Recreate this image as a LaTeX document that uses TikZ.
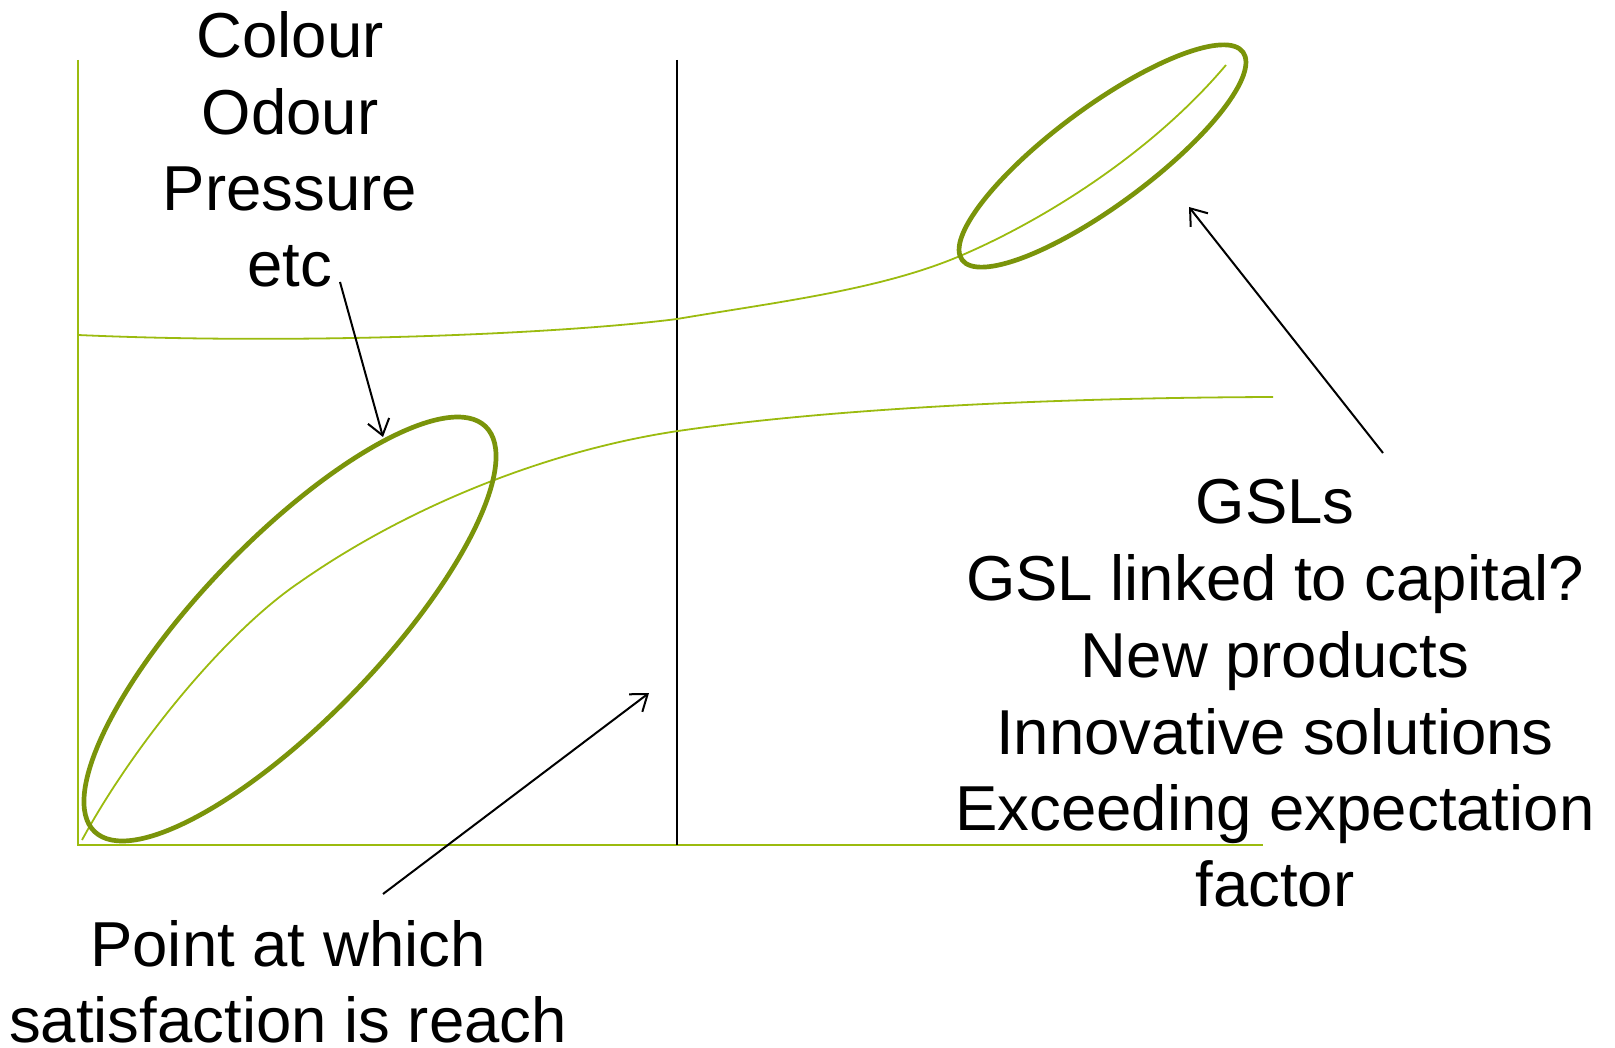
\documentclass[tikz,border=0pt]{standalone}
\usepackage{fontspec}
\setmainfont{Liberation Sans}
\usetikzlibrary{arrows.meta}
\definecolor{lightgr}{RGB}{155,187,15}
\definecolor{ringgr}{RGB}{122,148,10}
\begin{document}
\begin{tikzpicture}[x=1pt,y=-1pt,
  lbl/.style={inner sep=0pt, anchor=base, font=\fontsize{63.5}{76.5}\selectfont},
  axisline/.style={draw=lightgr, line width=2pt},
  curveline/.style={draw=lightgr, line width=1.8pt},
  ring/.style={draw=ringgr, line width=4.7pt},
  pointer/.style={draw=black, line width=2pt, -{Straight Barb[length=15pt,width=22pt]}}]
\useasboundingbox (0,0) rectangle (1615,1048);
% axes
\coordinate (ytop) at (78,60);
\coordinate (orig) at (78,845);
\coordinate (xend) at (1263,845);
\draw[axisline] (ytop) -- (orig) -- (xend);
% divider
\coordinate (dtop) at (677,60);
\coordinate (dbot) at (677,845);
\draw[line width=1.6pt] (dtop) -- (dbot);
% curves
\draw[curveline] (78,335) .. controls (300,345) and (560,334) .. (677,319)
  .. controls (777,302) and (880,290) .. (960,256)
  .. controls (1040,222) and (1150,155) .. (1226,65);
\draw[curveline] (82,840) .. controls (137,739) and (230,629) .. (300,582)
  .. controls (410,505) and (550,450) .. (678,431)
  .. controls (800,413) and (1000,398) .. (1273,397);
% ellipses
\draw[ring, rotate around={46:(290,629)}] (290,629) ellipse [x radius=281.5, y radius=90];
\draw[ring, rotate around={36.5:(1102.5,156)}] (1102.5,156) ellipse [x radius=174.7, y radius=49];
% texts
\node[lbl] (t1) at (290,58) {Colour};
\node[lbl] (t2) at (290,135) {Odour};
\node[lbl] (t3) at (290,211) {Pressure};
\node[lbl] (t4) at (290,287) {etc};
\node[lbl] (p1) at (288,966) {Point at which};
\node[lbl] (p2) at (288,1042) {satisfaction is reach};
\node[lbl] (g1) at (1275,523) {GSLs};
\node[lbl] (g2) at (1275,600) {GSL linked to capital?};
\node[lbl] (g3) at (1275,677) {New products};
\node[lbl] (g4) at (1275,754) {Innovative solutions};
\node[lbl] (g5) at (1275,830) {Exceeding expectation};
\node[lbl] (g6) at (1275,906) {factor};
% arrows
\coordinate (a1s) at (340,282);
\coordinate (a1e) at (383,437);
\coordinate (a2s) at (383,894);
\coordinate (a2e) at (649,693);
\coordinate (a3s) at (1383,453);
\coordinate (a3e) at (1189,207);
\draw[pointer] (a1s) -- (a1e);
\draw[pointer] (a2s) -- (a2e);
\draw[pointer] (a3s) -- (a3e);
\end{tikzpicture}
\end{document}
